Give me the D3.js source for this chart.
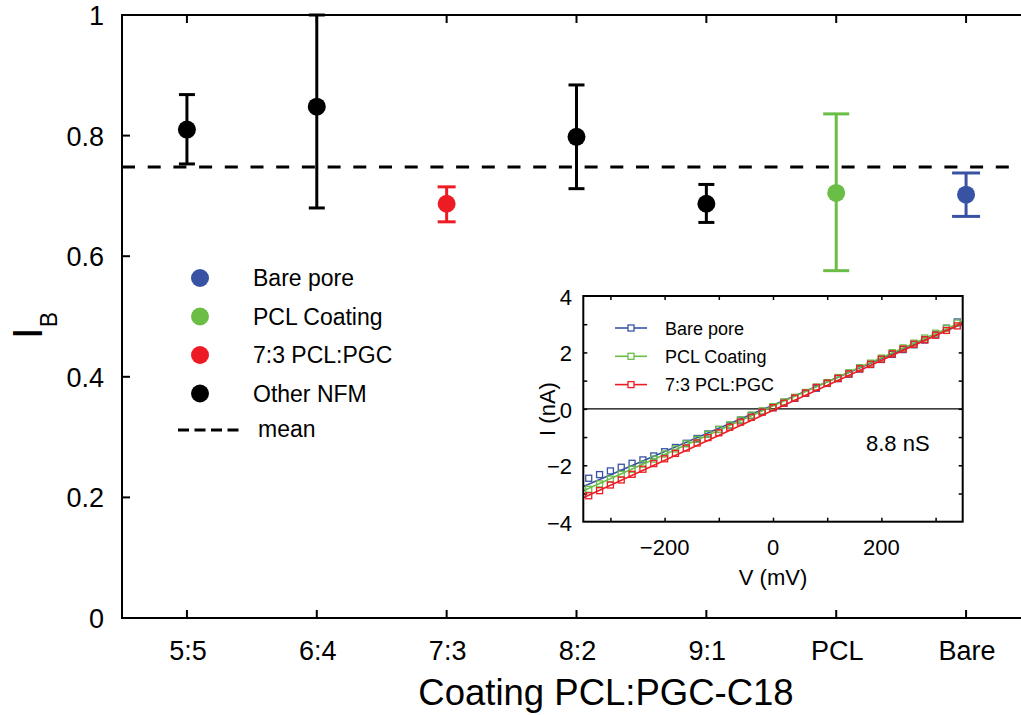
<!DOCTYPE html>
<html lang="en">
<head>
    <meta charset="UTF-8">
    <title>I_B by coating</title>
    <style>
        body {
            margin: 0;
            background: #fff;
        }
        svg text {
            font-family: "Liberation Sans", Arial, Helvetica, sans-serif;
            fill: #000;
        }
    </style>
    <script src="https://d3js.org/d3.v7.min.js"></script>
</head>
<body>
    <div id="plot"></div>

    <script>
        // main panel data
        const categories = ["5:5", "6:4", "7:3", "8:2", "9:1", "PCL", "Bare"];
        const ibValue = [0.810, 0.848, 0.687, 0.798, 0.687, 0.705, 0.702];
        const ibUpper = [0.868, 1.000, 0.715, 0.884, 0.719, 0.836, 0.738];
        const ibLower = [0.753, 0.680, 0.657, 0.712, 0.656, 0.576, 0.666];
        const ibGroup = ["other", "other", "pgc73", "other", "other", "pcl", "bare"];
        const ibMean = 0.748;
        const yTicks = [0, 0.2, 0.4, 0.6, 0.8, 1];

        const legendLabels = ["Bare pore", "PCL Coating", "7:3 PCL:PGC", "Other NFM"];
        const legendGroups = ["bare", "pcl", "pgc73", "other"];

        // inset IV data
        const voltage = [-340, -320, -300, -280, -260, -240, -220, -200, -180, -160, -140, -120, -100, -80, -60, -40, -20,
            0, 20, 40, 60, 80, 100, 120, 140, 160, 180, 200, 220, 240, 260, 280, 300, 320, 340];
        const currentBare = [-2.46, -2.33, -2.20, -2.07, -1.93, -1.81, -1.67, -1.52, -1.37, -1.22, -1.05, -0.89, -0.73, -0.58, -0.40, -0.24, -0.09,
            0.04, 0.20, 0.37, 0.55, 0.73, 0.90, 1.07, 1.23, 1.41, 1.57, 1.75, 1.93, 2.10, 2.27, 2.44, 2.62, 2.86, 3.08];
        const currentPCL = [-2.85, -2.66, -2.49, -2.32, -2.14, -1.96, -1.78, -1.60, -1.42, -1.24, -1.08, -0.90, -0.73, -0.57, -0.39, -0.22, -0.07,
            0.08, 0.25, 0.41, 0.58, 0.77, 0.93, 1.11, 1.28, 1.46, 1.62, 1.80, 1.99, 2.16, 2.33, 2.51, 2.68, 2.85, 3.04];
        const current73 = [-3.08, -2.90, -2.70, -2.52, -2.32, -2.14, -1.94, -1.77, -1.58, -1.39, -1.21, -1.02, -0.85, -0.65, -0.47, -0.30, -0.12,
            0.04, 0.20, 0.38, 0.56, 0.76, 0.91, 1.08, 1.24, 1.42, 1.58, 1.76, 1.95, 2.12, 2.29, 2.45, 2.61, 2.78, 2.94];
        // linear fit lines, end points [V, I]
        const fitBare = [[-350, -2.75], [350, 3.02]];
        const fitPCL = [[-350, -2.90], [350, 3.10]];
        const fit73 = [[-350, -3.15], [350, 3.04]];
        const insetLabels = ["Bare pore", "PCL Coating", "7:3 PCL:PGC"];
        const conductanceLabel = "8.8 nS";

        const colors = { bare: "#3953a4", pcl: "#6abd45", pgc73: "#ed1c24", other: "#000000" };
        const capHalf = { bare: 14, pcl: 13, pgc73: 9, other: 8 };

        const width = 1021, height = 715;
        const svg = d3.select("#plot").append("svg")
            .attr("width", width)
            .attr("height", height);

        // ---- main panel ----
        const mLeft = 122, mRight = 1031, mTop = 15, mBottom = 618;

        const x = d3.scaleBand().domain(categories).range([mLeft, mRight]);
        const y = d3.scaleLinear().domain([0, 1]).range([mBottom, mTop]);
        const cx = d => x(d) + x.bandwidth() / 2;

        // ticks, inward
        const tickG = svg.append("g").attr("stroke", "#000").attr("stroke-width", 2);
        categories.forEach(c => {
            tickG.append("line").attr("x1", cx(c)).attr("x2", cx(c)).attr("y1", mBottom).attr("y2", mBottom - 8);
            tickG.append("line").attr("x1", cx(c)).attr("x2", cx(c)).attr("y1", mTop).attr("y2", mTop + 8);
        });
        yTicks.forEach(t => {
            tickG.append("line").attr("x1", mLeft).attr("x2", mLeft + 8).attr("y1", y(t)).attr("y2", y(t));
        });

        svg.append("g").selectAll("text")
            .data(yTicks)
            .join("text")
            .attr("x", 104)
            .attr("y", d => y(d) + 10)
            .attr("text-anchor", "end")
            .style("font-size", "27px")
            .text(d => d3.format("~g")(d));

        svg.append("g").selectAll("text")
            .data(categories)
            .join("text")
            .attr("x", d => cx(d) + 1)
            .attr("y", 660)
            .attr("text-anchor", "middle")
            .style("font-size", "27px")
            .text(d => d);

        svg.append("text")
            .attr("x", 606)
            .attr("y", 705)
            .attr("text-anchor", "middle")
            .style("font-size", "36.5px")
            .text("Coating PCL:PGC-C18");

        const yl = svg.append("text")
            .attr("transform", "translate(42,339) rotate(-90)")
            .style("font-size", "42px")
            .text("I");
        yl.append("tspan").attr("dy", 15).style("font-size", "23px").text("B");

        // mean line
        svg.append("line")
            .attr("x1", mLeft).attr("x2", mRight)
            .attr("y1", y(ibMean)).attr("y2", y(ibMean))
            .attr("stroke", "#000")
            .attr("stroke-width", 3)
            .attr("stroke-dasharray", "13,12.7");

        // error bars + points
        const pts = svg.append("g");
        categories.forEach((c, i) => {
            const col = colors[ibGroup[i]];
            const h = capHalf[ibGroup[i]];
            const g = pts.append("g").attr("stroke", col).attr("stroke-width", 3);
            g.append("line").attr("x1", cx(c)).attr("x2", cx(c)).attr("y1", y(ibUpper[i])).attr("y2", y(ibLower[i]));
            g.append("line").attr("x1", cx(c) - h).attr("x2", cx(c) + h).attr("y1", y(ibUpper[i])).attr("y2", y(ibUpper[i]));
            g.append("line").attr("x1", cx(c) - h).attr("x2", cx(c) + h).attr("y1", y(ibLower[i])).attr("y2", y(ibLower[i]));
            pts.append("circle").attr("cx", cx(c)).attr("cy", y(ibValue[i])).attr("r", 9).attr("fill", col);
        });

        // frame
        svg.append("rect")
            .attr("x", mLeft).attr("y", mTop)
            .attr("width", mRight - mLeft).attr("height", mBottom - mTop)
            .attr("fill", "none")
            .attr("stroke", "#000")
            .attr("stroke-width", 2);

        // legend
        const leg = svg.append("g");
        legendLabels.forEach((lab, i) => {
            const ly = 278 + i * 38.5;
            leg.append("circle").attr("cx", 200).attr("cy", ly).attr("r", 9).attr("fill", colors[legendGroups[i]]);
            leg.append("text").attr("x", 253).attr("y", ly + 8).style("font-size", "23px").text(lab);
        });
        leg.append("line")
            .attr("x1", 178).attr("x2", 240).attr("y1", 430).attr("y2", 430)
            .attr("stroke", "#000").attr("stroke-width", 3)
            .attr("stroke-dasharray", "11,5.5");
        leg.append("text").attr("x", 258).attr("y", 437).style("font-size", "23px").text("mean");

        // ---- inset ----
        const iL = 583.3, iR = 962.7, iT = 296, iB = 521.7;
        const xi = d3.scaleLinear().domain([-350, 350]).range([iL, iR]);
        const yi = d3.scaleLinear().domain([-4, 4]).range([iB, iT]);
        const inset = svg.append("g");

        inset.append("rect")
            .attr("x", iL).attr("y", iT).attr("width", iR - iL).attr("height", iB - iT)
            .attr("fill", "#fff");

        inset.append("line")
            .attr("x1", iL).attr("x2", iR).attr("y1", yi(0)).attr("y2", yi(0))
            .attr("stroke", "#000").attr("stroke-width", 1.2);

        const axTicks = (axis, tr) => inset.append("g")
            .attr("transform", tr)
            .call(axis)
            .call(g => g.select(".domain").remove())
            .call(g => g.selectAll(".tick line").attr("stroke-width", 1.5));

        const xTickVals = [-300, -200, -100, 0, 100, 200, 300];
        const yTickVals = [-3, -2, -1, 0, 1, 2, 3];
        axTicks(d3.axisBottom(xi).tickValues(xTickVals).tickSize(-4).tickFormat(""), `translate(0,${iB})`);
        axTicks(d3.axisTop(xi).tickValues(xTickVals).tickSize(-4).tickFormat(""), `translate(0,${iT})`);
        axTicks(d3.axisLeft(yi).tickValues(yTickVals).tickSize(-4).tickFormat(""), `translate(${iL},0)`);
        axTicks(d3.axisRight(yi).tickValues(yTickVals).tickSize(-4).tickFormat(""), `translate(${iR},0)`);

        const fmt = d3.format("d");
        inset.append("g").selectAll("text")
            .data([-200, 0, 200])
            .join("text")
            .attr("x", d => xi(d))
            .attr("y", 555)
            .attr("text-anchor", "middle")
            .style("font-size", "22px")
            .text(d => fmt(d));
        inset.append("g").selectAll("text")
            .data([-4, -2, 0, 2, 4])
            .join("text")
            .attr("x", 572)
            .attr("y", d => yi(d) + 9)
            .attr("text-anchor", "end")
            .style("font-size", "22px")
            .text(d => fmt(d));

        inset.append("text")
            .attr("x", 773).attr("y", 585)
            .attr("text-anchor", "middle")
            .style("font-size", "22px")
            .text("V (mV)");
        inset.append("text")
            .attr("transform", "translate(555,409) rotate(-90)")
            .attr("text-anchor", "middle")
            .style("font-size", "22px")
            .text("I (nA)");
        inset.append("text")
            .attr("x", 866).attr("y", 451)
            .style("font-size", "22px")
            .text(conductanceLabel);

        const series = [
            { key: "bare", cur: currentBare, fit: fitBare },
            { key: "pcl", cur: currentPCL, fit: fitPCL },
            { key: "pgc73", cur: current73, fit: fit73 }
        ];
        svg.append("clipPath").attr("id", "inclip")
            .append("rect").attr("x", iL).attr("y", iT).attr("width", iR - iL).attr("height", iB - iT);
        const plotArea = inset.append("g").attr("clip-path", "url(#inclip)");
        const lineGen = d3.line().x(d => xi(d[0])).y(d => yi(d[1]));

        series.forEach(s => {
            const col = colors[s.key];
            const g = plotArea.append("g");
            g.selectAll("rect")
                .data(voltage.map((v, i) => [v, s.cur[i]]))
                .join("rect")
                .attr("x", d => xi(d[0]) - 3)
                .attr("y", d => yi(d[1]) - 3)
                .attr("width", 6)
                .attr("height", 6)
                .attr("fill", "none")
                .attr("stroke", col)
                .attr("stroke-width", 1.3);
            g.append("path")
                .attr("d", lineGen(s.fit))
                .attr("fill", "none")
                .attr("stroke", col)
                .attr("stroke-width", 1.6);
        });

        // inset legend
        insetLabels.forEach((lab, i) => {
            const ly = 328 + i * 28.3;
            const col = colors[series[i].key];
            inset.append("line").attr("x1", 615).attr("x2", 647).attr("y1", ly).attr("y2", ly)
                .attr("stroke", col).attr("stroke-width", 1.6);
            inset.append("rect").attr("x", 628).attr("y", ly - 3).attr("width", 6).attr("height", 6)
                .attr("fill", "#fff").attr("stroke", col).attr("stroke-width", 1.3);
            inset.append("text").attr("x", 665).attr("y", ly + 6.5).style("font-size", "18px").text(lab);
        });

        inset.append("rect")
            .attr("x", iL).attr("y", iT).attr("width", iR - iL).attr("height", iB - iT)
            .attr("fill", "none")
            .attr("stroke", "#000")
            .attr("stroke-width", 2);
    </script>
</body>
</html>
